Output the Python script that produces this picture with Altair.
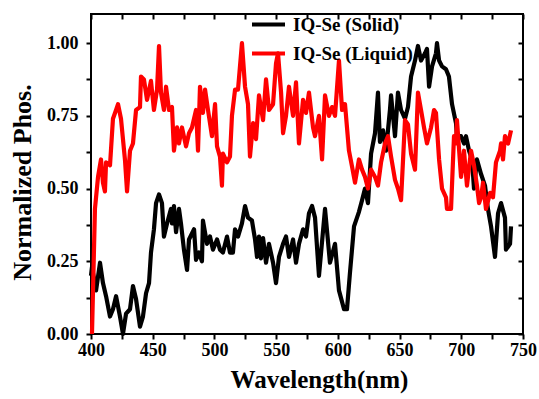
import altair as alt
import pandas as pd

# Photoluminescence spectra, normalized intensity vs wavelength (nm)
solid_nm = [400.0, 400.8, 404.1, 407.3, 409.7, 412.2, 415.4, 417.8, 420.3, 423.5, 425.9, 428.4,
            431.6, 434.0, 436.5, 439.7, 442.1, 444.6, 447.0, 448.6, 451.0, 452.7, 455.1, 457.5,
            459.1, 461.6, 464.8, 465.6, 467.2, 468.9, 471.3, 472.9, 475.3, 477.8, 479.4, 483.5,
            485.1, 487.5, 489.9, 490.7, 494.0, 496.4, 498.8, 502.1, 504.5, 506.9, 510.2, 512.6,
            515.0, 516.7, 519.1, 522.3, 524.8, 527.2, 530.4, 532.9, 534.5, 536.1, 537.7, 539.4,
            541.8, 544.2, 547.5, 549.9, 552.3, 555.6, 558.0, 560.4, 563.7, 566.1, 568.5, 571.8,
            574.2, 576.6, 579.1, 581.5, 584.7, 589.6, 593.6, 597.7, 600.9, 605.0, 607.4, 609.8,
            613.1, 617.1, 619.6, 622.0, 624.4, 626.9, 630.1, 632.5, 634.1, 636.6, 639.0, 642.2,
            643.1, 646.3, 648.7, 651.2, 654.4, 656.8, 659.3, 662.5, 664.9, 667.4, 670.6, 672.2,
            673.9, 676.3, 679.5, 680.3, 682.0, 684.4, 687.6, 690.0, 692.5, 695.7, 696.5, 699.8,
            702.2, 703.8, 706.3, 708.7, 710.3, 712.7, 716.0, 719.2, 721.6, 724.1, 727.3, 729.8,
            732.2, 735.4, 736.2, 739.5, 740.3]
solid_val = [0.20, 0.23, 0.15, 0.245, 0.175, 0.13, 0.06, 0.085, 0.13, 0.06, 0.0, 0.07,
             0.085, 0.165, 0.12, 0.025, 0.06, 0.14, 0.175, 0.28, 0.36, 0.45, 0.48, 0.45,
             0.335, 0.38, 0.43, 0.38, 0.44, 0.35, 0.43, 0.38, 0.29, 0.22, 0.325, 0.36,
             0.255, 0.28, 0.25, 0.39, 0.31, 0.335, 0.29, 0.325, 0.29, 0.28, 0.335, 0.28,
             0.28, 0.36, 0.335, 0.38, 0.44, 0.40, 0.39, 0.325, 0.265, 0.335, 0.26, 0.33,
             0.245, 0.31, 0.245, 0.175, 0.265, 0.31, 0.335, 0.265, 0.325, 0.245, 0.31, 0.36,
             0.335, 0.415, 0.44, 0.40, 0.20, 0.43, 0.245, 0.31, 0.15, 0.085, 0.085, 0.21,
             0.37, 0.42, 0.46, 0.50, 0.45, 0.62, 0.69, 0.83, 0.66, 0.70, 0.63, 0.77,
             0.82, 0.68, 0.83, 0.77, 0.74, 0.78, 0.885, 0.94, 0.99, 0.94, 0.965, 0.98,
             0.85, 0.92, 0.965, 1.0, 0.94, 0.92, 0.91, 0.885, 0.79, 0.725, 0.68, 0.68,
             0.655, 0.68, 0.63, 0.60, 0.50, 0.60, 0.55, 0.51, 0.43, 0.37, 0.265, 0.415,
             0.45, 0.40, 0.29, 0.31, 0.37]

liquid_nm = [400.8, 403.2, 405.7, 408.1, 409.7, 411.3, 412.2, 415.4, 417.8, 420.3, 421.9, 424.3,
             427.5, 429.2, 431.6, 434.0, 436.5, 439.7, 440.5, 442.9, 445.4, 448.6, 451.0, 453.5,
             455.1, 456.7, 459.1, 460.8, 463.2, 465.6, 467.2, 469.7, 471.3, 473.7, 477.0, 479.4,
             481.8, 485.1, 486.7, 488.3, 490.7, 492.4, 494.8, 498.0, 500.5, 502.1, 504.5, 506.1,
             506.9, 510.2, 512.6, 514.2, 516.7, 519.1, 522.3, 524.8, 527.2, 528.8, 531.3, 533.7,
             536.1, 539.4, 541.8, 544.2, 547.5, 549.9, 551.5, 554.0, 555.6, 558.0, 560.4, 563.7,
             566.1, 568.5, 571.8, 574.2, 576.6, 579.9, 581.5, 584.7, 587.2, 589.6, 592.8, 595.3,
             597.7, 600.9, 603.4, 605.8, 609.0, 611.5, 613.9, 617.1, 619.6, 622.0, 624.4, 626.9,
             630.1, 632.5, 635.0, 638.2, 640.6, 643.1, 646.3, 648.7, 651.2, 654.4, 656.8, 659.3,
             662.5, 664.9, 667.4, 669.8, 672.2, 675.5, 677.9, 679.5, 682.0, 684.4, 687.6, 688.4,
             691.7, 694.1, 695.7, 696.5, 699.8, 702.2, 704.6, 707.9, 710.3, 712.7, 714.4, 716.0,
             717.6, 720.0, 723.3, 725.7, 728.1, 731.4, 732.2, 733.8, 735.4, 737.9, 740.3]
liquid_val = [0.0, 0.43, 0.54, 0.60, 0.52, 0.49, 0.59, 0.58, 0.74, 0.77, 0.79, 0.74,
              0.60, 0.49, 0.63, 0.655, 0.77, 0.78, 0.885, 0.875, 0.805, 0.87, 0.77, 0.84,
              0.99, 0.83, 0.77, 0.85, 0.77, 0.78, 0.63, 0.71, 0.655, 0.71, 0.645, 0.69,
              0.71, 0.77, 0.63, 0.85, 0.76, 0.84, 0.77, 0.68, 0.79, 0.645, 0.61, 0.51,
              0.62, 0.59, 0.61, 0.75, 0.84, 0.84, 1.0, 0.85, 0.79, 0.61, 0.725, 0.67,
              0.82, 0.735, 0.875, 0.77, 0.79, 0.93, 0.965, 0.83, 0.69, 0.75, 0.85, 0.75,
              0.865, 0.655, 0.805, 0.76, 0.83, 0.71, 0.68, 0.75, 0.60, 0.82, 0.75, 0.78,
              0.75, 0.94, 0.77, 0.79, 0.63, 0.575, 0.52, 0.60, 0.565, 0.54, 0.50, 0.565,
              0.54, 0.51, 0.59, 0.655, 0.68, 0.61, 0.53, 0.50, 0.46, 0.735, 0.72, 0.62,
              0.565, 0.83, 0.77, 0.71, 0.655, 0.71, 0.77, 0.76, 0.60, 0.50, 0.47, 0.43,
              0.43, 0.68, 0.655, 0.735, 0.54, 0.63, 0.51, 0.63, 0.58, 0.51, 0.45, 0.47,
              0.52, 0.43, 0.485, 0.47, 0.59, 0.63, 0.655, 0.60, 0.68, 0.655, 0.70]

series_names = ["IQ-Se (Solid)", "IQ-Se (Liquid)"]
series_colors = ["#000000", "#ff0000"]
x_ticks = list(range(400, 751, 25))
y_ticks = [i * 0.125 for i in range(9)]

rows = []
for nm, v in zip(solid_nm, solid_val):
    rows.append({"nm": nm, "value": v, "series": series_names[0], "k": 0})
for nm, v in zip(liquid_nm, liquid_val):
    rows.append({"nm": nm, "value": v, "series": series_names[1], "k": 1})
df = pd.DataFrame(rows)

FONT = "Liberation Serif"

x_scale = alt.Scale(domain=[400, 750], nice=False, zero=False)
y_scale = alt.Scale(domain=[0, 1.1], nice=False)

tick_style = dict(grid=False, domain=False, tickSize=5, tickWidth=2, tickColor="black")

lines = alt.Chart(df).mark_line(strokeWidth=4.2, strokeJoin="round").encode(
    x=alt.X("nm:Q", scale=x_scale,
            axis=alt.Axis(title="Wavelength(nm)", values=x_ticks, labelFlush=False,
                          labelExpr="datum.value % 50 == 0 ? datum.label : ''",
                          labelPadding=2, titlePadding=8, titleX=228,
                          labelFont=FONT, labelFontSize=18, labelFontWeight="bold",
                          labelColor="black", titleFont=FONT, titleFontSize=25,
                          titleFontWeight="bold", titleColor="black", **tick_style)),
    y=alt.Y("value:Q", scale=y_scale,
            axis=alt.Axis(title="Normalized Phos.", values=y_ticks, labelFlush=False,
                          labelExpr="datum.value % 0.25 == 0 ? format(datum.value, '.2f') : ''",
                          labelPadding=8, titlePadding=11, titleY=168,
                          labelFont=FONT, labelFontSize=18, labelFontWeight="bold",
                          labelColor="black", titleFont=FONT, titleFontSize=26,
                          titleFontWeight="bold", titleColor="black", **tick_style)),
    color=alt.Color("series:N",
                    scale=alt.Scale(domain=series_names, range=series_colors),
                    legend=alt.Legend(title=None, orient="none", legendX=159, legendY=-8,
                                      symbolType="stroke", symbolSize=1089,
                                      symbolStrokeWidth=4, labelOffset=6,
                                      labelFont=FONT, labelFontSize=19,
                                      labelFontWeight="bold", labelColor="black",
                                      rowPadding=-12)),
    order="k:Q",
    detail="series:N",
)

# Inward ticks along the top and right edges of the frame
mirror = alt.Chart(df).mark_line(opacity=0).encode(
    x=alt.X("nm:Q", scale=x_scale,
            axis=alt.Axis(orient="top", values=x_ticks, labels=False, title=None,
                          offset=-5, **tick_style)),
    y=alt.Y("value:Q", scale=y_scale,
            axis=alt.Axis(orient="right", values=y_ticks, labels=False, title=None,
                          offset=-5, **tick_style)),
    detail="series:N",
)

chart = alt.layer(lines, mirror).resolve_axis(
    x="independent", y="independent"
).properties(
    width=432, height=320,
    autosize=alt.AutoSizeParams(type="none"),
    padding={"left": 91, "top": 14, "right": 16, "bottom": 65},
).configure_view(stroke="black", strokeWidth=2)

chart.save("out.html", embed_options={"renderer": "svg", "actions": False})
